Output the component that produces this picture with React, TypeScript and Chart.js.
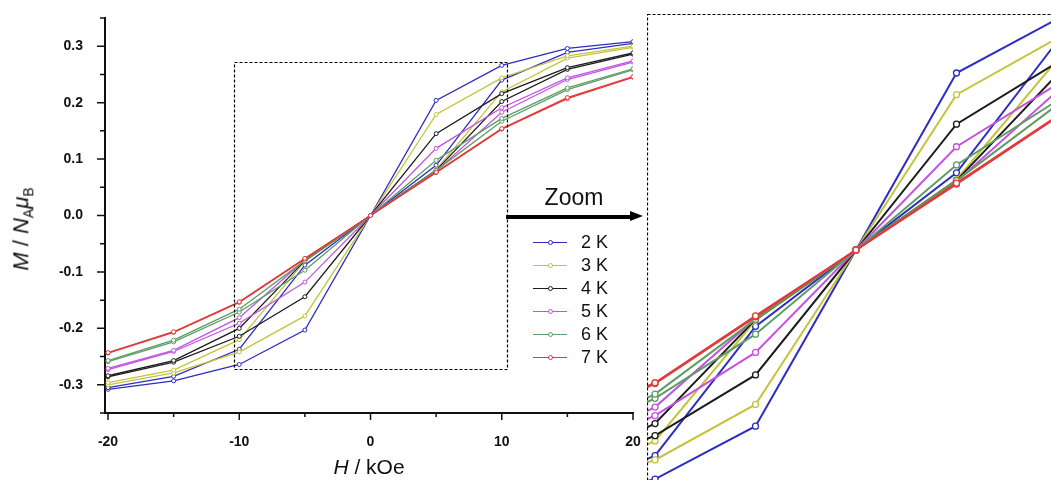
import React, { useEffect, useRef } from "react";
import { Chart, registerables } from "chart.js";

Chart.register(...registerables);

// ---------- data ----------
const fieldKOe = [-20, -15, -10, -5, 0, 5, 10, 15, 20];
const temperatures = ["2 K", "3 K", "4 K", "5 K", "6 K", "7 K"];
const seriesColors = ["#2d2dc2", "#c4c43c", "#1c1c1c", "#c452e0", "#5e9c64", "#e23a3a"];

// sweep branches (values at fieldKOe)
const up2K = [-0.305, -0.285, -0.237, -0.088, 0, 0.204, 0.266, 0.296, 0.308];
const down2K = [-0.308, -0.293, -0.264, -0.203, 0, 0.089, 0.240, 0.289, 0.305];
const up3K = [-0.296, -0.274, -0.220, -0.081, 0, 0.179, 0.244, 0.283, 0.300];
const down3K = [-0.300, -0.279, -0.242, -0.178, 0, 0.081, 0.219, 0.279, 0.298];
const up4K = [-0.284, -0.257, -0.200, -0.080, 0, 0.145, 0.216, 0.262, 0.288];
const down4K = [-0.286, -0.260, -0.214, -0.144, 0, 0.080, 0.202, 0.259, 0.286];
const up5K = [-0.271, -0.239, -0.181, -0.079, 0, 0.119, 0.191, 0.244, 0.274];
const down5K = [-0.273, -0.241, -0.191, -0.118, 0, 0.079, 0.183, 0.241, 0.272];
const up6K = [-0.257, -0.221, -0.166, -0.080, 0, 0.098, 0.172, 0.226, 0.260];
const down6K = [-0.259, -0.224, -0.171, -0.097, 0, 0.080, 0.167, 0.223, 0.258];
const up7K = [-0.243, -0.206, -0.153, -0.076, 0, 0.077, 0.154, 0.209, 0.246];
const down7K = [-0.244, -0.207, -0.154, -0.077, 0, 0.076, 0.153, 0.207, 0.245];

const upBranches = [up2K, up3K, up4K, up5K, up6K, up7K];
const downBranches = [down2K, down3K, down4K, down5K, down6K, down7K];

const xTickValues = [-20, -15, -10, -5, 0, 5, 10, 15, 20];
const yTickValues = [-0.35, -0.3, -0.25, -0.2, -0.15, -0.1, -0.05, 0, 0.05, 0.1, 0.15, 0.2, 0.25, 0.3, 0.35];
const xRange = { min: -20.23, max: 20 };
const yRange = { min: -0.35, max: 0.35 };
const zoomBox = { xMin: -10.4, xMax: 10.4, yMin: -0.272, yMax: 0.272 };

// ---------- helpers ----------
function buildDatasets(lineWidth: number, radius: number, pointBorder: number) {
  const ds: any[] = [];
  for (let i = temperatures.length - 1; i >= 0; i--) {
    [upBranches[i], downBranches[i]].forEach((branch, b) => {
      ds.push({
        label: temperatures[i] + (b === 0 ? " up" : " down"),
        data: fieldKOe.map((h, j) => ({ x: h, y: branch[j] })),
        borderColor: seriesColors[i],
        backgroundColor: "#ffffff",
        borderWidth: lineWidth,
        pointRadius: radius,
        pointBorderWidth: pointBorder,
        pointBackgroundColor: "#ffffff",
        pointBorderColor: seriesColors[i],
        tension: 0,
        fill: false,
      });
    });
  }
  return ds;
}

const isMajorY = (v: number) => Math.abs(Math.round(v * 10) - v * 10) < 1e-6;
const isMajorX = (v: number) => Math.abs(v % 10) < 1e-6;

const tickFont = { family: "Arial, 'Liberation Sans', sans-serif", size: 14, weight: "bold" as const };

const mainDecor = {
  id: "mainDecor",
  afterDraw(chart: any) {
    const { ctx, chartArea, scales } = chart;
    const x = scales.x;
    const y = scales.y;
    ctx.save();
    ctx.strokeStyle = "#111";
    ctx.lineWidth = 1.5;
    ctx.beginPath();
    xTickValues.forEach((v) => {
      const px = x.getPixelForValue(v);
      const len = isMajorX(v) ? 7 : 4;
      ctx.moveTo(px, chartArea.bottom);
      ctx.lineTo(px, chartArea.bottom + len);
    });
    yTickValues.forEach((v) => {
      const py = y.getPixelForValue(v);
      const len = isMajorY(v) ? 8 : 5;
      ctx.moveTo(chartArea.left, py);
      ctx.lineTo(chartArea.left - len, py);
    });
    ctx.stroke();
    // zoom box
    const l = x.getPixelForValue(zoomBox.xMin);
    const r = x.getPixelForValue(zoomBox.xMax);
    const t = y.getPixelForValue(zoomBox.yMax);
    const b = y.getPixelForValue(zoomBox.yMin);
    ctx.setLineDash([3, 2]);
    ctx.lineWidth = 1.2;
    ctx.strokeStyle = "#000";
    ctx.strokeRect(Math.round(l) + 0.5, Math.round(t) + 0.5, Math.round(r - l), Math.round(b - t));
    ctx.restore();
  },
};

const panelDecor = {
  id: "panelDecor",
  afterDraw(chart: any) {
    const { ctx, width, height } = chart;
    ctx.save();
    ctx.setLineDash([3, 2]);
    ctx.lineWidth = 1.2;
    ctx.strokeStyle = "#000";
    ctx.strokeRect(0.5, 0.5, width - 1, height - 1);
    ctx.restore();
  },
};

export default function App() {
  const mainRef = useRef<HTMLCanvasElement>(null);
  const panelRef = useRef<HTMLCanvasElement>(null);

  useEffect(() => {
    const main = new Chart(mainRef.current as HTMLCanvasElement, {
      type: "line",
      data: { datasets: buildDatasets(1.3, 2, 1) },
      plugins: [mainDecor],
      options: {
        animation: false,
        responsive: false,
        devicePixelRatio: 1,
        layout: { autoPadding: false, padding: { left: 0, top: 18, right: 418, bottom: 27 } },
        plugins: { legend: { display: false }, tooltip: { enabled: false }, title: { display: false } },
        scales: {
          x: {
            type: "linear",
            min: xRange.min,
            max: xRange.max,
            afterBuildTicks: (s: any) => {
              s.ticks = xTickValues.map((v) => ({ value: v }));
            },
            afterFit: (s: any) => {
              s.height = 40;
              s.paddingLeft = 0;
              s.paddingRight = 0;
            },
            ticks: {
              autoSkip: false,
              maxRotation: 0,
              padding: 21,
              color: "#111",
              font: tickFont,
              callback: (v: any) => (isMajorX(Number(v)) ? String(Number(v)) : ""),
            },
            grid: { display: true, drawOnChartArea: false, drawTicks: false },
            border: { display: true, color: "#111", width: 2 },
          },
          y: {
            type: "linear",
            min: yRange.min,
            max: yRange.max,
            afterBuildTicks: (s: any) => {
              s.ticks = yTickValues.map((v) => ({ value: v }));
            },
            afterFit: (s: any) => {
              s.width = 105;
              s.paddingTop = 0;
              s.paddingBottom = 0;
            },
            ticks: {
              autoSkip: false,
              padding: 22,
              color: "#111",
              font: tickFont,
              callback: (v: any) => (isMajorY(Number(v)) ? Number(v).toFixed(1) : ""),
            },
            grid: { display: true, drawOnChartArea: false, drawTicks: false },
            border: { display: true, color: "#111", width: 2 },
          },
        },
      } as any,
    });

    const panel = new Chart(panelRef.current as HTMLCanvasElement, {
      type: "line",
      data: { datasets: buildDatasets(2, 3, 1.3) },
      plugins: [panelDecor],
      options: {
        animation: false,
        responsive: false,
        devicePixelRatio: 1,
        layout: { autoPadding: false, padding: 0 },
        plugins: { legend: { display: false }, tooltip: { enabled: false } },
        scales: {
          x: { type: "linear", display: false, min: zoomBox.xMin, max: zoomBox.xMax },
          y: { type: "linear", display: false, min: zoomBox.yMin, max: zoomBox.yMax },
        },
      } as any,
    });

    return () => {
      main.destroy();
      panel.destroy();
    };
  }, []);

  const font = "Arial, 'Liberation Sans', sans-serif";
  const legendTops = [242, 265, 288, 311, 334, 357];

  return (
    <div
      style={{
        position: "fixed",
        left: 0,
        top: 0,
        width: 1051,
        height: 480,
        overflow: "hidden",
        background: "#fff",
        fontFamily: font,
        color: "#111",
      }}
    >
      <canvas ref={mainRef} width={1051} height={480} style={{ position: "absolute", left: 0, top: 0 }} />
      <canvas ref={panelRef} width={418} height={472} style={{ position: "absolute", left: 647, top: 14 }} />

      {/* y-axis title */}
      <div
        style={{
          position: "absolute",
          left: 25,
          top: 229,
          transform: "translate(-50%, -50%) rotate(-90deg)",
          whiteSpace: "nowrap",
          fontSize: 22,
          lineHeight: "24px",
        }}
      >
        <i>M</i> / <i>N</i>
        <sub style={{ fontSize: 14 }}>A</sub>
        <i>μ</i>
        <sub style={{ fontSize: 14 }}>B</sub>
      </div>

      {/* x-axis title */}
      <div
        style={{
          position: "absolute",
          left: 369,
          top: 467,
          transform: "translate(-50%, -50%)",
          whiteSpace: "nowrap",
          fontSize: 21,
          lineHeight: "24px",
        }}
      >
        <i>H</i> / kOe
      </div>

      {/* Zoom label and arrow */}
      <div
        style={{
          position: "absolute",
          left: 574,
          top: 197,
          transform: "translate(-50%, -50%)",
          fontSize: 23,
          lineHeight: "26px",
          whiteSpace: "nowrap",
        }}
      >
        Zoom
      </div>
      <div style={{ position: "absolute", left: 506, top: 215, width: 126, height: 3.5, background: "#000" }} />
      <div
        style={{
          position: "absolute",
          left: 630,
          top: 211,
          width: 0,
          height: 0,
          borderLeft: "13px solid #000",
          borderTop: "5.75px solid transparent",
          borderBottom: "5.75px solid transparent",
        }}
      />

      {/* legend */}
      {temperatures.map((t, i) => (
        <div
          key={t}
          style={{
            position: "absolute",
            left: 533,
            top: legendTops[i] - 11,
            height: 22,
            display: "flex",
            alignItems: "center",
          }}
        >
          <div style={{ position: "relative", width: 34, height: 0, borderTop: `1.3px solid ${seriesColors[i]}` }}>
            <div
              style={{
                position: "absolute",
                left: 15,
                top: -3,
                width: 3,
                height: 3,
                borderRadius: "50%",
                border: `1px solid ${seriesColors[i]}`,
                background: "#fff",
              }}
            />
          </div>
          <span style={{ marginLeft: 14, fontSize: 18, lineHeight: "22px", whiteSpace: "nowrap" }}>{t}</span>
        </div>
      ))}
    </div>
  );
}
